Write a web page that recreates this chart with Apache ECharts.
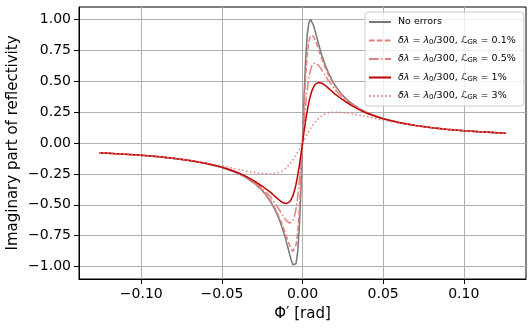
<!DOCTYPE html>
<html lang="en">
<head>
    <meta charset="UTF-8">
    <title>Imaginary part of reflectivity</title>
    <script src="https://cdn.jsdelivr.net/npm/echarts@6/dist/echarts.min.js"></script>
    <style>
        html, body { margin: 0; padding: 0; background: #fff; }
        #chart { width: 532px; height: 330px; }
    </style>
</head>
<body>
<div id="chart"></div>
<script>
    // Phi' [rad]
    var phi = [-0.126, -0.11, -0.1, -0.09, -0.08, -0.07, -0.06, -0.05, -0.045, -0.04, -0.035, -0.03, -0.026, -0.023,
        -0.02, -0.018, -0.016, -0.014, -0.012, -0.011, -0.01, -0.009, -0.008, -0.007, -0.006, -0.005, -0.004,
        -0.003, -0.002, -0.001, 0,
        0.001, 0.002, 0.003, 0.004, 0.005, 0.006, 0.007, 0.008, 0.009, 0.01, 0.011, 0.012, 0.014, 0.016, 0.018,
        0.02, 0.023, 0.026, 0.03, 0.035, 0.04, 0.045, 0.05, 0.06, 0.07, 0.08, 0.09, 0.1, 0.11, 0.126];

    var noErrors = [-0.0792, -0.0907, -0.0998, -0.111, -0.125, -0.142, -0.166, -0.198, -0.220, -0.246, -0.280, -0.324,
        -0.371, -0.415, -0.471, -0.516, -0.569, -0.633, -0.710, -0.753, -0.800, -0.849, -0.899, -0.946, -0.984,
        -1.000, -0.976, -0.882, -0.690, -0.385, 0,
        0.385, 0.690, 0.882, 0.976, 1.000, 0.984, 0.946, 0.899, 0.849, 0.800, 0.753, 0.710, 0.633, 0.569, 0.516,
        0.471, 0.415, 0.371, 0.324, 0.280, 0.246, 0.220, 0.198, 0.166, 0.142, 0.125, 0.111, 0.0998, 0.0907, 0.0792];

    var gr01 = [-0.0792, -0.0907, -0.0997, -0.111, -0.124, -0.142, -0.165, -0.197, -0.219, -0.245, -0.278, -0.322,
        -0.367, -0.410, -0.462, -0.505, -0.555, -0.613, -0.680, -0.717, -0.755, -0.793, -0.829, -0.859, -0.876,
        -0.870, -0.825, -0.723, -0.548, -0.299, 0,
        0.299, 0.548, 0.723, 0.825, 0.870, 0.876, 0.859, 0.829, 0.793, 0.755, 0.717, 0.680, 0.613, 0.555, 0.505,
        0.462, 0.410, 0.367, 0.322, 0.278, 0.245, 0.219, 0.197, 0.165, 0.142, 0.124, 0.111, 0.0997, 0.0907, 0.0792];

    var gr05 = [-0.0791, -0.0905, -0.0994, -0.110, -0.124, -0.141, -0.164, -0.195, -0.216, -0.241, -0.273, -0.313,
        -0.354, -0.391, -0.435, -0.470, -0.507, -0.548, -0.590, -0.610, -0.628, -0.642, -0.649, -0.646, -0.630,
        -0.593, -0.531, -0.439, -0.316, -0.166, 0,
        0.166, 0.316, 0.439, 0.531, 0.593, 0.630, 0.646, 0.649, 0.642, 0.628, 0.610, 0.590, 0.548, 0.507, 0.470,
        0.435, 0.391, 0.354, 0.313, 0.273, 0.241, 0.216, 0.195, 0.164, 0.141, 0.124, 0.110, 0.0994, 0.0905, 0.0791];

    var gr1 = [-0.0790, -0.0904, -0.0994, -0.110, -0.124, -0.141, -0.164, -0.195, -0.216, -0.240, -0.270, -0.306,
        -0.340, -0.368, -0.397, -0.421, -0.444, -0.467, -0.484, -0.489, -0.490, -0.486, -0.476, -0.457, -0.428,
        -0.387, -0.333, -0.265, -0.185, -0.0952, 0,
        0.0952, 0.185, 0.265, 0.333, 0.387, 0.428, 0.457, 0.476, 0.486, 0.490, 0.489, 0.484, 0.467, 0.444, 0.421,
        0.397, 0.368, 0.340, 0.306, 0.270, 0.240, 0.216, 0.195, 0.164, 0.141, 0.124, 0.110, 0.0994, 0.0904, 0.0790];

    var gr3 = [-0.0790, -0.0905, -0.0995, -0.110, -0.124, -0.140, -0.160, -0.184, -0.198, -0.213, -0.226, -0.238,
        -0.245, -0.248, -0.250, -0.249, -0.244, -0.235, -0.221, -0.211, -0.200, -0.187, -0.172, -0.156, -0.138,
        -0.118, -0.0962, -0.0733, -0.0495, -0.0249, 0,
        0.0249, 0.0495, 0.0733, 0.0962, 0.118, 0.138, 0.156, 0.172, 0.187, 0.200, 0.211, 0.221, 0.235, 0.244, 0.249,
        0.250, 0.248, 0.245, 0.238, 0.226, 0.213, 0.198, 0.184, 0.160, 0.140, 0.124, 0.110, 0.0995, 0.0905, 0.0790];

    var xTicks = [-0.1, -0.05, 0, 0.05, 0.1];
    var yTicks = [-1, -0.75, -0.5, -0.25, 0, 0.25, 0.5, 0.75, 1];

    var names = ['No errors', 'GR 0.1%', 'GR 0.5%', 'GR 1%', 'GR 3%'];
    var legendText = {
        'No errors': 'No errors',
        'GR 0.1%': '{i|δλ} = {i|λ}{s|0}/300, {i|ℒ}{s|GR} = 0.1%',
        'GR 0.5%': '{i|δλ} = {i|λ}{s|0}/300, {i|ℒ}{s|GR} = 0.5%',
        'GR 1%': '{i|δλ} = {i|λ}{s|0}/300, {i|ℒ}{s|GR} = 1%',
        'GR 3%': '{i|δλ} = {i|λ}{s|0}/300, {i|ℒ}{s|GR} = 3%'
    };

    function pairs(ys) {
        var out = [];
        for (var i = 0; i < phi.length; i++) {
            out.push([phi[i], ys[i]]);
        }
        return out;
    }

    function tickText(v) {
        return v.toFixed(2).replace('-', '\u2212');
    }

    var FONT = 'DejaVu Sans';
    var lightRed = '#e57f7f';

    var mychart = echarts.init(document.getElementById('chart'), null, {renderer: 'canvas'});

    function line(name, ys, color, type) {
        return {
            name: name,
            type: 'line',
            data: pairs(ys),
            symbol: 'none',
            showSymbol: false,
            smooth: false,
            clip: true,
            lineStyle: {color: color, width: 1.5, type: type},
            itemStyle: {color: color}
        };
    }

    var option = {
        animation: false,
        backgroundColor: '#fff',
        grid: {
            left: 79,
            right: 6,
            top: 7,
            bottom: 51,
            containLabel: false,
            outerBoundsMode: 'none',
            show: true,
            borderColor: '#000',
            borderWidth: 1,
            backgroundColor: 'transparent'
        },
        legend: {
            orient: 'vertical',
            left: 365,
            top: 12,
            padding: [5, 8, 5, 3],
            itemWidth: 22,
            itemHeight: 10,
            itemGap: 8.5,
            backgroundColor: 'rgba(255,255,255,0.8)',
            borderColor: '#cccccc',
            borderWidth: 1,
            borderRadius: 3,
            data: names,
            itemStyle: {opacity: 0, borderWidth: 0},
            formatter: function (name) {
                return legendText[name];
            },
            textStyle: {
                fontFamily: FONT,
                fontSize: 9.5,
                color: '#000',
                padding: [0, 0, 0, 2],
                rich: {
                    i: {fontFamily: FONT, fontSize: 9.5, fontStyle: 'italic', color: '#000'},
                    s: {fontFamily: FONT, fontSize: 6.8, color: '#000', verticalAlign: 'bottom'}
                }
            }
        },
        xAxis: {
            type: 'value',
            min: -0.1386,
            max: 0.1386,
            name: 'Φ′ [rad]',
            nameLocation: 'middle',
            nameGap: 28,
            nameMoveOverlap: false,
            nameTextStyle: {fontFamily: FONT, fontSize: 15, color: '#000'},
            axisLine: {show: true, onZero: false, lineStyle: {color: '#000', width: 1}},
            axisTick: {show: true, length: 5, customValues: xTicks, lineStyle: {color: '#000', width: 1}},
            axisLabel: {
                customValues: xTicks,
                margin: 8,
                fontFamily: FONT,
                fontSize: 14,
                color: '#000',
                formatter: tickText
            },
            splitLine: {show: true, lineStyle: {color: '#b0b0b0', width: 1}}
        },
        yAxis: {
            type: 'value',
            min: -1.1,
            max: 1.1,
            name: 'Imaginary part of reflectivity',
            nameLocation: 'middle',
            nameGap: 58,
            nameMoveOverlap: false,
            nameTextStyle: {fontFamily: FONT, fontSize: 15, color: '#000'},
            axisLine: {show: true, onZero: false, lineStyle: {color: '#000', width: 1}},
            axisTick: {show: true, length: 5, customValues: yTicks, lineStyle: {color: '#000', width: 1}},
            axisLabel: {
                customValues: yTicks,
                margin: 8,
                fontFamily: FONT,
                fontSize: 14,
                color: '#000',
                formatter: tickText
            },
            splitLine: {show: true, lineStyle: {color: '#b0b0b0', width: 1}}
        },
        series: [
            line(names[0], noErrors, '#777777', 'solid'),
            line(names[1], gr01, lightRed, [5.5, 2.4]),
            line(names[2], gr05, lightRed, [9.6, 2.4, 1.5, 2.4]),
            line(names[3], gr1, '#c00000', 'solid'),
            line(names[4], gr3, lightRed, [1.5, 2.5])
        ]
    };
    mychart.setOption(option);
</script>
</body>
</html>
